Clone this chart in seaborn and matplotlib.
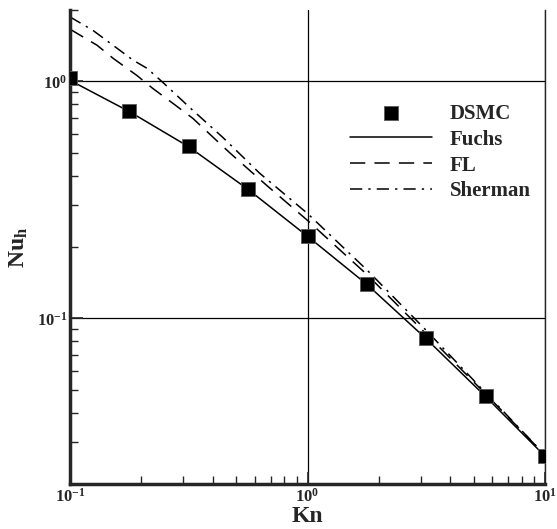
import numpy as np
import pandas as pd
import seaborn as sns
from matplotlib import pyplot as plt
from matplotlib import ticker

# values (log-log axes)
dsmc_kn = [0.1, 0.178, 0.316, 0.562, 1.0, 1.78, 3.16, 5.62, 10.0]
dsmc_nu = [1.03, 0.747, 0.532, 0.35, 0.222, 0.14, 0.0824, 0.0469, 0.0262]

fuchs_kn = [0.1, 0.178, 0.316, 0.562, 1.0, 1.78, 3.16, 5.62, 10.0]
fuchs_nu = [1.01, 0.745, 0.53, 0.35, 0.222, 0.139, 0.082, 0.0468, 0.0262]

fl_kn = [0.1, 0.13, 0.152, 0.191, 0.223, 0.271, 0.329, 0.47, 0.673, 1.0,
         1.78, 3.16, 5.62, 10.0]
fl_nu = [1.66, 1.42, 1.25, 1.06, 0.934, 0.808, 0.698, 0.50, 0.364, 0.259,
         0.153, 0.086, 0.048, 0.0265]

sherman_kn = [0.1, 0.125, 0.184, 0.211, 0.246, 0.319, 0.44, 0.628, 1.0,
              1.78, 3.16, 5.62, 10.0]
sherman_nu = [1.87, 1.64, 1.23, 1.135, 0.99, 0.776, 0.58, 0.41, 0.277,
              0.160, 0.089, 0.0485, 0.0265]

sns.set_style("ticks")
plt.rcParams["font.family"] = ["Liberation Serif", "DejaVu Serif"]
plt.rcParams["font.weight"] = "bold"
plt.rcParams["mathtext.fontset"] = "custom"
plt.rcParams["mathtext.rm"] = "Liberation Serif:bold"
plt.rcParams["mathtext.bf"] = "Liberation Serif:bold"
plt.rcParams["mathtext.it"] = "Liberation Serif:bold"

fig = plt.figure(figsize=(5.57, 5.29), dpi=100)
# axes box: x 70..545 px, y 10..484 px
ax = fig.add_axes([70 / 557, 1 - 484 / 529, 475 / 557, 474 / 529])

sns.scatterplot(x=dsmc_kn, y=dsmc_nu, marker="s", s=110, color="k",
                edgecolor="0.35", linewidth=0.6, label="DSMC", zorder=5, ax=ax)
sns.lineplot(x=fuchs_kn, y=fuchs_nu, color="k", lw=1.1, label="Fuchs", ax=ax)
sns.lineplot(x=fl_kn, y=fl_nu, color="k", lw=1.1, label="FL", ax=ax)
sns.lineplot(x=sherman_kn, y=sherman_nu, color="k", lw=1.1, label="Sherman", ax=ax)
ax.lines[1].set_dashes([10, 6])
ax.lines[2].set_dashes([8, 4, 1.5, 4])

ax.set_xscale("log")
ax.set_yscale("log")
ax.set_xlim(0.1, 10)
ax.set_ylim(0.02, 2.0)

fmt = ticker.FuncFormatter(lambda v, p: r"$\mathbf{10^{%d}}$" % round(np.log10(v)))
ax.xaxis.set_major_formatter(fmt)
ax.yaxis.set_major_formatter(fmt)
ax.xaxis.set_minor_formatter(ticker.NullFormatter())
ax.yaxis.set_minor_formatter(ticker.NullFormatter())
ax.xaxis.set_major_locator(ticker.LogLocator(base=10, numticks=10))
ax.yaxis.set_major_locator(ticker.LogLocator(base=10, numticks=10))
ax.xaxis.set_minor_locator(ticker.LogLocator(base=10, subs=np.arange(2, 10), numticks=20))
ax.yaxis.set_minor_locator(ticker.LogLocator(base=10, subs=np.arange(2, 10), numticks=20))

ax.tick_params(which="major", direction="in", length=9, width=1.2, labelsize=12)
ax.tick_params(which="minor", direction="in", length=6, width=1.0)
ax.tick_params(axis="x", which="major", pad=3)
ax.tick_params(axis="y", which="major", pad=2)
ax.grid(which="major", color="k", lw=0.9)

ax.spines["top"].set_visible(False)
ax.spines["left"].set_linewidth(2.5)
ax.spines["bottom"].set_linewidth(2.5)
ax.spines["right"].set_linewidth(1.0)

ax.set_xlabel("Kn", fontsize=17, fontweight="bold", labelpad=0)
ax.set_ylabel(r"Nu$_\mathrm{h}$", fontsize=17, fontweight="bold", labelpad=5)

handles, labels = ax.get_legend_handles_labels()
order = ["DSMC", "Fuchs", "FL", "Sherman"]
hmap = dict(zip(labels, handles))
ax.legend([hmap[k] for k in order], order, loc="upper left",
          bbox_to_anchor=(0.589, 0.802), frameon=False, fontsize=15,
          handlelength=3.95, handletextpad=0.85, labelspacing=0.28,
          borderpad=0, borderaxespad=0)

fig.savefig("out.png", dpi=100)
